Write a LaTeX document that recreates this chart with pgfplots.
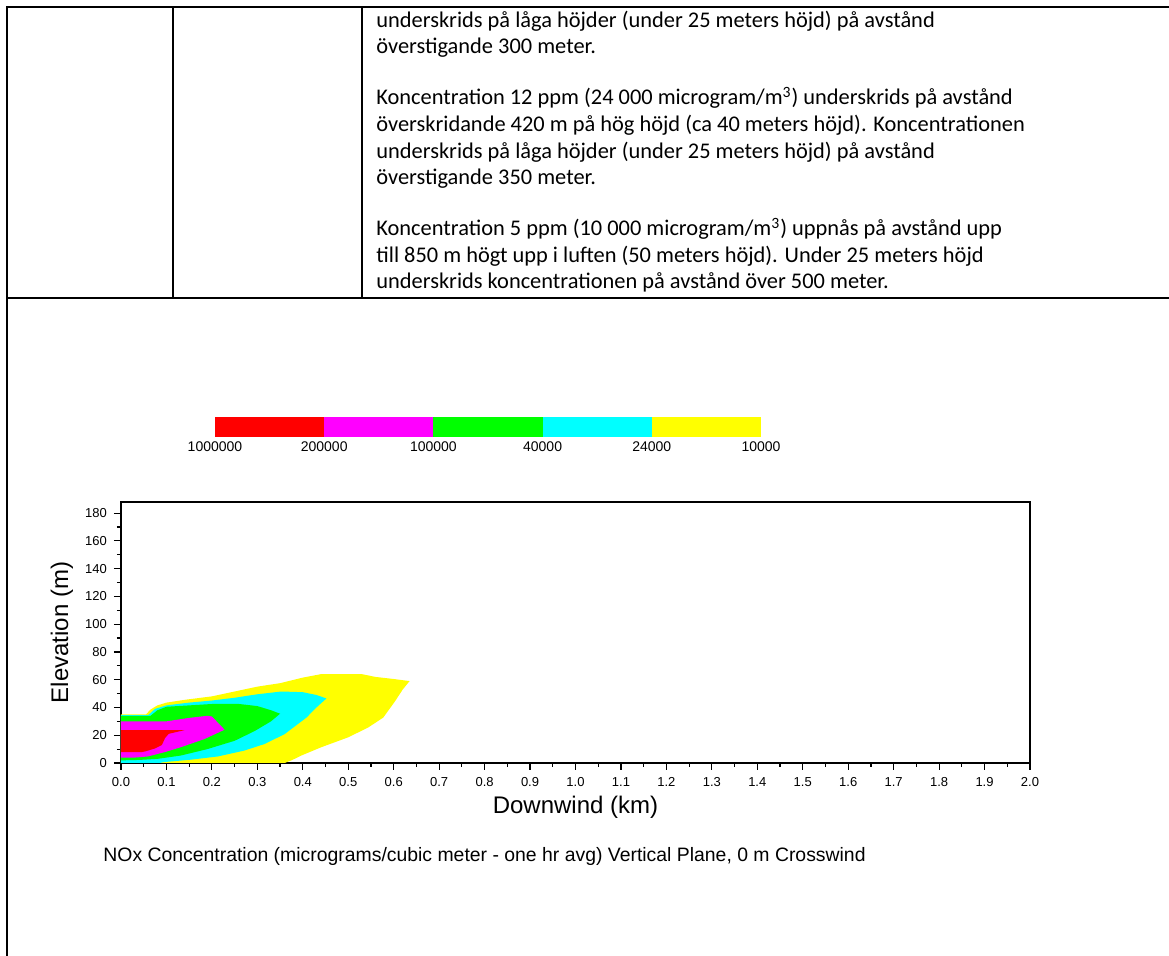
\documentclass[border=0pt]{standalone}
\usepackage{pgfplots}
\pgfplotsset{compat=1.18}
\usepackage{fontspec}
\setmainfont{Carlito}
\newfontfamily\arial{Liberation Sans}
\definecolor{cred}{RGB}{255,0,0}
\definecolor{cmag}{RGB}{255,0,255}
\definecolor{cgreen}{RGB}{0,255,0}
\definecolor{ccyan}{RGB}{0,255,255}
\definecolor{cyellow}{RGB}{255,255,0}
\begin{document}
\begin{tikzpicture}
\begin{scope}[x=0.5pt,y=-0.5pt]
\path[use as bounding box] (0,0) rectangle (1169,956);
\draw[line width=0.9pt] (1169,7) -- (7,7) -- (7,956);
\draw[line width=0.9pt] (173,7) -- (173,298);
\draw[line width=0.9pt] (362,7) -- (362,298);
\draw[line width=0.9pt] (7,298) -- (1169,298);
\begin{scope}[every node/.style={anchor=base west, inner sep=0pt, font=\fontsize{11.2}{13}\selectfont}]
\node at (376,28) {underskrids på låga höjder (under 25 meters höjd) på avstånd};
\node at (376,54) {överstigande 300 meter.};
\node at (376,105) {Koncentration 12 ppm (24 000 microgram/m\textsuperscript{3}) underskrids på avstånd};
\node at (376,132) {överskridande 420 m på hög höjd (ca 40 meters höjd). Koncentrationen};
\node at (376,159) {underskrids på låga höjder (under 25 meters höjd) på avstånd};
\node at (376,185) {överstigande 350 meter.};
\node at (376,236) {Koncentration 5 ppm (10 000 microgram/m\textsuperscript{3}) uppnås på avstånd upp};
\node at (376,263) {till 850 m högt upp i luften (50 meters höjd). Under 25 meters höjd};
\node at (376,289) {underskrids koncentrationen på avstånd över 500 meter.};
\end{scope}
\node[anchor=base west, inner sep=0pt, font=\arial\fontsize{9.7}{11}\selectfont] at (103,862) {NOx Concentration (micrograms/cubic meter - one hr avg) Vertical Plane, 0 m Crosswind};
\end{scope}

% colour scale
\begin{axis}[at={(107.5pt,-218.5pt)}, anchor=south west, scale only axis,
  width=273pt, height=10pt, xmin=0, xmax=5, ymin=0, ymax=1,
  axis line style={draw=none}, ytick=\empty,
  xtick={0,1,2,3,4,5}, xticklabels={1000000,200000,100000,40000,24000,10000},
  major tick length=0pt,
  xticklabel style={font=\arial\fontsize{7}{8}\selectfont, inner sep=2pt},
  /pgf/number format/assume math mode=true]
\addplot[fill=cred, draw=none] coordinates {(0,0) (1,0) (1,1) (0,1)} -- cycle;
\addplot[fill=cmag, draw=none] coordinates {(1,0) (2,0) (2,1) (1,1)} -- cycle;
\addplot[fill=cgreen, draw=none] coordinates {(2,0) (3,0) (3,1) (2,1)} -- cycle;
\addplot[fill=ccyan, draw=none] coordinates {(3,0) (4,0) (4,1) (3,1)} -- cycle;
\addplot[fill=cyellow, draw=none] coordinates {(4,0) (5,0) (5,1) (4,1)} -- cycle;
\end{axis}

% main plot
\begin{axis}[at={(60.5pt,-381.5pt)}, anchor=south west, scale only axis,
  width=454.5pt, height=130.5pt,
  xmin=0, xmax=2.0, ymin=0, ymax=188,
  axis line style={line width=0.9pt},
  tick pos=left, tick align=outside,
  major tick length=3.5pt, minor tick length=2pt,
  every tick/.style={black, line width=0.6pt},
  xtick={0,0.1,0.2,0.3,0.4,0.5,0.6,0.7,0.8,0.9,1.0,1.1,1.2,1.3,1.4,1.5,1.6,1.7,1.8,1.9,2.0},
  xticklabels={0.0,0.1,0.2,0.3,0.4,0.5,0.6,0.7,0.8,0.9,1.0,1.1,1.2,1.3,1.4,1.5,1.6,1.7,1.8,1.9,2.0},
  ytick={0,20,40,60,80,100,120,140,160,180},
  minor x tick num=1, minor y tick num=1,
  ticklabel style={font=\arial\fontsize{6.5}{7}\selectfont},
  /pgf/number format/assume math mode=true,
  xlabel={Downwind (km)}, ylabel={Elevation (m)},
  label style={font=\arial\fontsize{12}{13}\selectfont},
  xlabel style={at={([yshift=-22pt]axis description cs:0.5,0)}, anchor=center},
  ylabel style={at={([xshift=-29.5pt]axis description cs:0,0.5)}, anchor=center},
  clip=true]
\addplot[fill=cyellow, draw=none] coordinates {(0,0) (0,35) (0.055,35) (0.065,38.5) (0.08,41.5) (0.1,43.5) (0.14,45.5) (0.2,48) (0.25,51.5) (0.3,55) (0.35,57.5) (0.4,61.5) (0.44,64) (0.53,64) (0.56,62) (0.6,60.5) (0.635,59) (0.62,53) (0.603,44.5) (0.577,32.7) (0.544,25.6) (0.5,18.5) (0.441,11.4) (0.397,5.4) (0.375,1.9) (0.36,0)} -- cycle;
\addplot[fill=ccyan, draw=none] coordinates {(0,0) (0,34.5) (0.06,34.5) (0.075,39) (0.1,41.5) (0.15,43.5) (0.2,45) (0.25,47) (0.3,49.5) (0.353,51.5) (0.4,51) (0.43,49) (0.452,46.5) (0.43,40) (0.408,32.7) (0.36,20.8) (0.316,13.7) (0.272,9) (0.213,4.7) (0.154,2.4) (0.096,0.7) (0.085,0)} -- cycle;
\addplot[fill=cgreen, draw=none] coordinates {(0,1.9) (0,34) (0.065,34) (0.08,38) (0.1,40.5) (0.15,41.5) (0.2,42.5) (0.26,42.5) (0.3,41) (0.33,38) (0.35,35.5) (0.33,30) (0.294,23) (0.25,16) (0.19,10) (0.132,5.4) (0.081,3) (0.04,2.2)} -- cycle;
\addplot[fill=cmag, draw=none] coordinates {(0,3.8) (0,30) (0.1,30) (0.12,31) (0.15,32.5) (0.19,34) (0.2,33.5) (0.228,24) (0.184,17.3) (0.132,11.4) (0.096,7.8) (0.059,4.7) (0.03,3.9)} -- cycle;
\addplot[fill=cred, draw=none] coordinates {(0,7.8) (0,23.7) (0.14,23.7) (0.105,21) (0.097,18) (0.09,13) (0.075,10.5) (0.055,8.5) (0.045,7.8)} -- cycle;
\end{axis}
\end{tikzpicture}
\end{document}
